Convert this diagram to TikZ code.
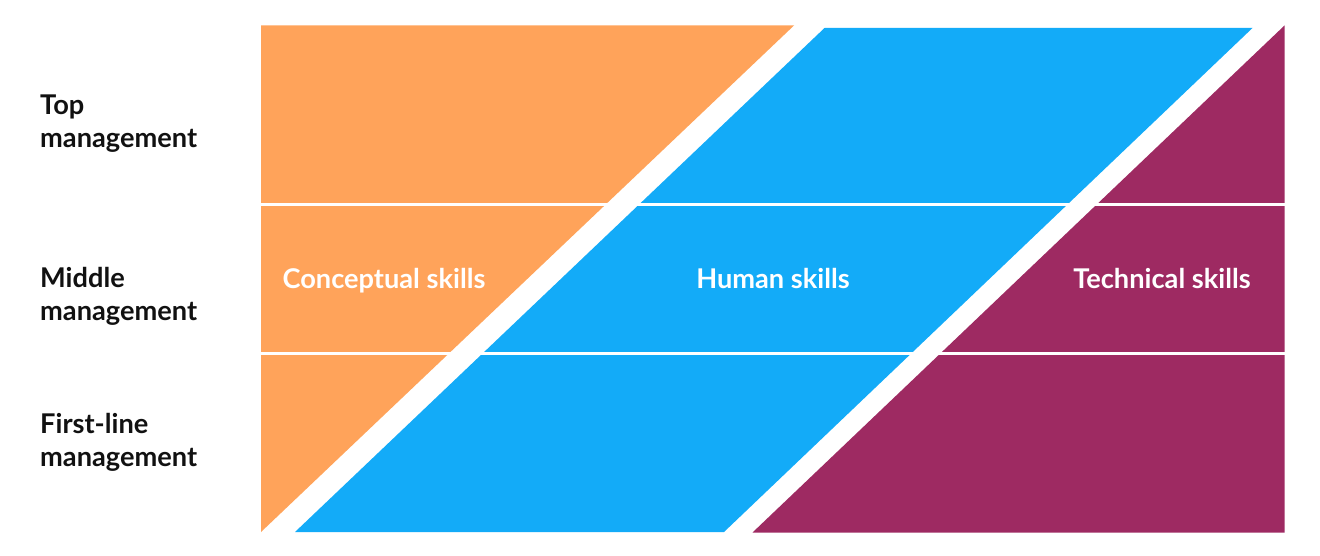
\documentclass[tikz,border=0pt]{standalone}
\usepackage{fontspec}
\setmainfont{Lato}
\definecolor{skorange}{RGB}{255,163,90}
\definecolor{skblue}{RGB}{19,171,248}
\definecolor{skmag}{RGB}{158,42,98}
\definecolor{sktext}{RGB}{17,17,17}
\begin{document}
\begin{tikzpicture}[x=1pt,y=-1pt,
  rowlabel/.style={anchor=base west,align=left,inner sep=0pt,text=sktext,
    font=\fontsize{27.2}{33}\selectfont\bfseries},
  skilllabel/.style={anchor=base,inner sep=0pt,text=white,
    font=\fontsize{27.2}{32}\selectfont\bfseries},
  sep/.style={draw=white,line width=3.5pt}]
\useasboundingbox (0,0) rectangle (1320,556);
% shapes
\fill[skorange] (261,25.5) -- (794,25.5) -- (261,532) -- cycle;
\fill[skblue] (824.5,28) -- (1252.5,28) -- (724,532) -- (295,532) -- cycle;
\fill[skmag] (1284.5,25.5) -- (1284.5,532.5) -- (752.5,532.5) -- cycle;
% separators
\coordinate (s1a) at (261,204.7);
\coordinate (s1b) at (1285,204.7);
\coordinate (s2a) at (261,353.3);
\coordinate (s2b) at (1285,353.3);
\draw[sep] (s1a) -- (s1b);
\draw[sep] (s2a) -- (s2b);
% row labels (base anchor = baseline of last line)
\node[rowlabel] (top) at (40,147.5) {Top\\management};
\node[rowlabel] (mid) at (40,320) {Middle\\management};
\node[rowlabel] (first) at (40,466) {First-line\\management};
% skill labels
\node[skilllabel] (concept) at (384,288) {Conceptual skills};
\node[skilllabel] (human) at (773,288) {Human skills};
\node[skilllabel] (tech) at (1162,288) {Technical skills};
\end{tikzpicture}
\end{document}
